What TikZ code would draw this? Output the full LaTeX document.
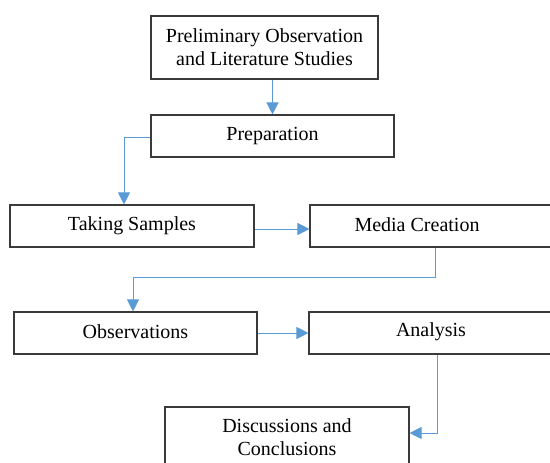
\documentclass[tikz,border=0pt]{standalone}
\usepackage{fontspec}
\setmainfont{Liberation Serif}
\usetikzlibrary{arrows.meta}
\definecolor{arrblue}{HTML}{5B9BD5}
\definecolor{boxgray}{HTML}{3A3A3A}
\begin{document}
\begin{tikzpicture}[x=1pt,y=-1pt,
  box/.style={draw=boxgray,line width=1.1pt,inner sep=0pt,anchor=center},
  lbl/.style={inner sep=0pt,align=center,font=\fontsize{20}{23}\selectfont},
  arr/.style={draw=arrblue,line width=0.9pt,-{Triangle[length=12pt,width=12pt]}}]
\useasboundingbox (0,0) rectangle (550,463);
\clip (0,0) rectangle (550,463);
% boxes
\node[box,minimum width=227pt,minimum height=63pt] (b1) at (264.5,47.5) {};
\node[lbl] (t1) at (264.5,47.5) {Preliminary Observation\\and Literature Studies};
\node[box,minimum width=243pt,minimum height=42pt] (b2) at (272.5,136) {};
\node[lbl] (t2) at (272.5,136) {Preparation};
\node[box,minimum width=244pt,minimum height=42pt] (ts) at (132,226) {};
\node[lbl] (t3) at (132,226) {Taking Samples};
\node[box,minimum width=250pt,minimum height=42pt] (mc) at (435,226) {};
\node[lbl] (t4) at (417,225) {Media Creation};
\node[box,minimum width=243pt,minimum height=42pt] (ob) at (135.5,333) {};
\node[lbl] (t5) at (135.5,332) {Observations};
\node[box,minimum width=256pt,minimum height=42pt] (an) at (437,333) {};
\node[lbl] (t6) at (431,332) {Analysis};
\node[box,minimum width=244pt,minimum height=62pt] (dc) at (287,438) {};
\node[lbl] (t7) at (287,437.5) {Discussions and\\Conclusions};
% connectors
\draw[arr] (b1.south -| b2.north) -- (b2.north);
\coordinate (c1) at (124,137);
\draw[arr] (b2.west |- c1) -- (c1) -- (c1 |- ts.north);
\coordinate (c2) at (282,229);
\draw[arr] (ts.east |- c2) -- (mc.west |- c2);
\coordinate (c3) at (133,277);
\draw[arr] (mc.south) -- (mc.south |- c3) -- (c3) -- (c3 |- ob.north);
\draw[arr] (ob.east) -- (an.west);
\coordinate (c4) at (437,433);
\draw[arr] (an.south) -- (c4) -- (dc.east |- c4);
\end{tikzpicture}
\end{document}
